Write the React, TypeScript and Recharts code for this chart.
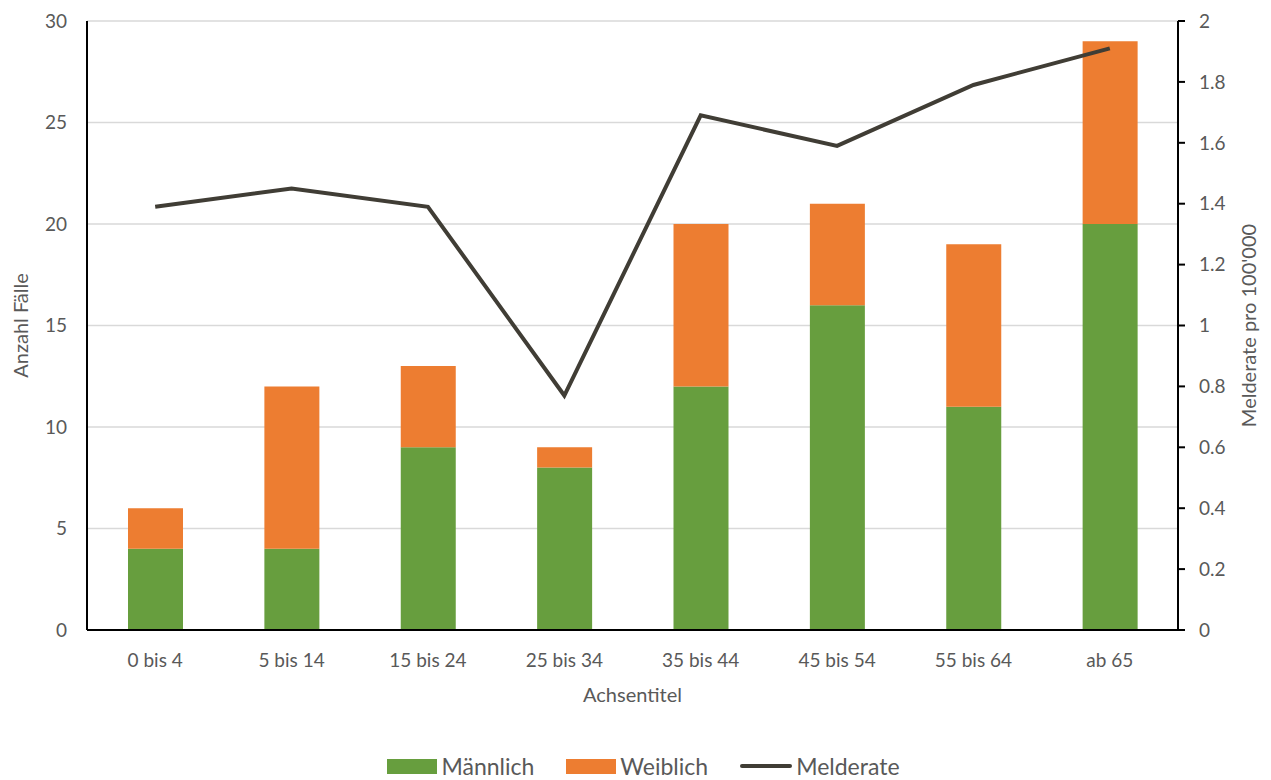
import {
  ComposedChart,
  Bar,
  Line,
  XAxis,
  YAxis,
  CartesianGrid,
  Legend,
} from "recharts";

const categories = [
  "0 bis 4",
  "5 bis 14",
  "15 bis 24",
  "25 bis 34",
  "35 bis 44",
  "45 bis 54",
  "55 bis 64",
  "ab 65",
];
const maennlich = [4, 4, 9, 8, 12, 16, 11, 20];
const weiblich = [2, 8, 4, 1, 8, 5, 8, 9];
const melderate = [1.39, 1.45, 1.39, 0.77, 1.69, 1.59, 1.79, 1.91];

const leftTicks = [0, 5, 10, 15, 20, 25, 30];
const rightTicks = [0, 0.2, 0.4, 0.6, 0.8, 1, 1.2, 1.4, 1.6, 1.8, 2];

const data = categories.map((name, i) => ({
  name,
  maennlich: maennlich[i],
  weiblich: weiblich[i],
  melderate: melderate[i],
}));

const FONT = "Lato, 'Open Sans', sans-serif";
const TEXT = "#595959";
const GREEN = "#679E3E";
const ORANGE = "#ED7D31";
const LINE = "#403D35";

const legendItems = [
  { label: "Männlich", color: GREEN, kind: "rect" },
  { label: "Weiblich", color: ORANGE, kind: "rect" },
  { label: "Melderate", color: LINE, kind: "line" },
];

const renderLegend = () => (
  <div
    style={{
      display: "flex",
      justifyContent: "center",
      alignItems: "center",
      gap: 32,
      fontFamily: FONT,
      fontSize: 23,
      color: TEXT,
      height: 28,
      paddingLeft: 16,
    }}
  >
    {legendItems.map((it) => (
      <div key={it.label} style={{ display: "flex", alignItems: "center", gap: 4 }}>
        {it.kind === "rect" ? (
          <span style={{ width: 50, height: 15, background: it.color, display: "inline-block" }} />
        ) : (
          <span
            style={{
              width: 52,
              height: 4,
              borderRadius: 2,
              background: it.color,
              display: "inline-block",
            }}
          />
        )}
        <span>{it.label}</span>
      </div>
    ))}
  </div>
);

export default function App() {
  return (
    <div style={{ position: "absolute", left: 0, top: 0, background: "#fff" }}>
      <ComposedChart
        width={1271}
        height={780}
        data={data}
        margin={{ top: 21, right: 0, left: 0, bottom: 0 }}
      >
        <CartesianGrid vertical={false} stroke="#D9D9D9" strokeWidth={1.5} yAxisId="left" />
        <XAxis
          dataKey="name"
          axisLine={{ stroke: "#000", strokeWidth: 2 }}
          tickLine={false}
          tickMargin={18}
          height={122}
          tick={{ fill: TEXT, fontSize: 19, fontFamily: FONT }}
          label={{
            value: "Achsentitel",
            position: "insideTop",
            offset: 58,
            fill: TEXT,
            fontSize: 20,
            fontFamily: FONT,
          }}
        />
        <YAxis
          yAxisId="left"
          domain={[0, 30]}
          ticks={leftTicks}
          width={87}
          axisLine={{ stroke: "#000", strokeWidth: 2 }}
          tickLine={false}
          tickSize={0}
          tickMargin={20}
          tick={{ fill: TEXT, fontSize: 19, fontFamily: FONT }}
          label={{
            value: "Anzahl Fälle",
            angle: -90,
            position: "insideLeft",
            offset: 21,
            style: { textAnchor: "middle" },
            fill: TEXT,
            fontSize: 20,
            fontFamily: FONT,
          }}
        />
        <YAxis
          yAxisId="right"
          orientation="right"
          domain={[0, 2]}
          ticks={rightTicks}
          width={93}
          axisLine={{ stroke: "#000", strokeWidth: 2 }}
          tickLine={{ stroke: "#000", strokeWidth: 2 }}
          tickSize={7}
          tickMargin={14}
          tick={{ fill: TEXT, fontSize: 19, fontFamily: FONT }}
          label={{
            value: "Melderate pro 100'000",
            angle: -90,
            position: "insideRight",
            offset: 22,
            style: { textAnchor: "middle" },
            fill: TEXT,
            fontSize: 20,
            fontFamily: FONT,
          }}
        />
        <Bar
          yAxisId="left"
          dataKey="maennlich"
          stackId="a"
          fill={GREEN}
          barSize={55}
          isAnimationActive={false}
        />
        <Bar
          yAxisId="left"
          dataKey="weiblich"
          stackId="a"
          fill={ORANGE}
          barSize={55}
          isAnimationActive={false}
        />
        <Line
          yAxisId="right"
          dataKey="melderate"
          type="linear"
          stroke={LINE}
          strokeWidth={4}
          dot={false}
          isAnimationActive={false}
        />
        <Legend
          verticalAlign="bottom"
          height={28}
          content={renderLegend}
          wrapperStyle={{ bottom: 0 }}
        />
      </ComposedChart>
    </div>
  );
}
